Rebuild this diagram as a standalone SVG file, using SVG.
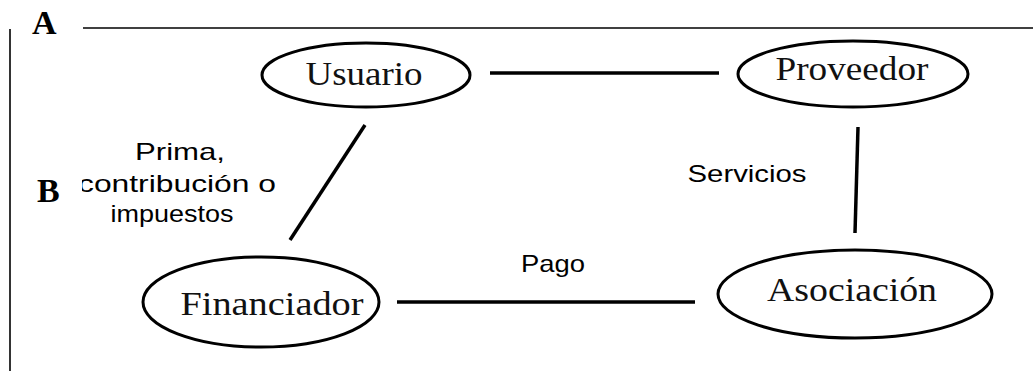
<svg xmlns="http://www.w3.org/2000/svg" width="1033" height="371" viewBox="0 0 1033 371">
  <style>
    .node { fill: #ffffff; stroke: #000000; stroke-width: 3; }
    .name { font-family: "Liberation Serif", "Times New Roman", serif; font-size: 33px; fill: #111111; text-anchor: middle; }
    .edge { stroke: #000000; stroke-width: 3.5; stroke-linecap: butt; fill: none; }
    .frame { stroke: #000000; stroke-width: 1.6; fill: none; }
    .tag { font-family: "Liberation Serif", "Times New Roman", serif; font-size: 34px; font-weight: bold; fill: #000000; }
    .note { font-family: "Liberation Sans", Arial, sans-serif; font-size: 24px; fill: #000000; text-anchor: middle; }
  </style>
  <rect width="1033" height="371" fill="#ffffff"/>

  <!-- panel frame -->
  <g id="frame">
    <line class="frame" x1="83" y1="28" x2="1033" y2="28"/>
    <line class="frame" x1="10" y1="29" x2="10" y2="371"/>
  </g>

  <!-- connectors -->
  <g id="connectors">
    <line class="edge" x1="490" y1="73" x2="719" y2="73"/>
    <line class="edge" x1="365" y1="125" x2="290" y2="240"/>
    <line class="edge" x1="858" y1="127" x2="855" y2="233"/>
    <line class="edge" x1="397" y1="302" x2="695" y2="302"/>
  </g>

  <!-- connector labels -->
  <g id="labels">
    <text class="note" x="180" y="160" textLength="90" lengthAdjust="spacingAndGlyphs">Prima,</text>
    <text class="note" x="177" y="192" textLength="198" lengthAdjust="spacingAndGlyphs">contribución o</text>
    <text class="note" x="172" y="222" textLength="123" lengthAdjust="spacingAndGlyphs">impuestos</text>
    <text class="note" x="747" y="182" textLength="119" lengthAdjust="spacingAndGlyphs">Servicios</text>
    <text class="note" x="553" y="272" textLength="64" lengthAdjust="spacingAndGlyphs">Pago</text>
  </g>

  <!-- nodes -->
  <g id="usuario">
    <ellipse class="node" cx="366" cy="75" rx="104" ry="32"/>
    <text class="name" x="364" y="85" textLength="117" lengthAdjust="spacingAndGlyphs">Usuario</text>
  </g>
  <g id="proveedor">
    <ellipse class="node" cx="853" cy="74" rx="115" ry="33"/>
    <text class="name" x="852" y="80" textLength="153" lengthAdjust="spacingAndGlyphs">Proveedor</text>
  </g>
  <g id="financiador">
    <ellipse class="node" cx="261" cy="302" rx="118" ry="45"/>
    <text class="name" x="272" y="315" font-size="35" textLength="183" lengthAdjust="spacingAndGlyphs">Financiador</text>
  </g>
  <g id="asociacion">
    <ellipse class="node" cx="855" cy="294" rx="137" ry="44"/>
    <text class="name" x="852" y="301" textLength="170" lengthAdjust="spacingAndGlyphs">Asociación</text>
  </g>

  <!-- panel tags -->
  <g id="tag-a">
    <text class="tag" x="32" y="34">A</text>
  </g>
  <g id="tag-b">
    <rect x="28" y="170" width="54" height="40" fill="#ffffff"/>
    <text class="tag" x="37" y="202" font-size="32">B</text>
  </g>
</svg>
